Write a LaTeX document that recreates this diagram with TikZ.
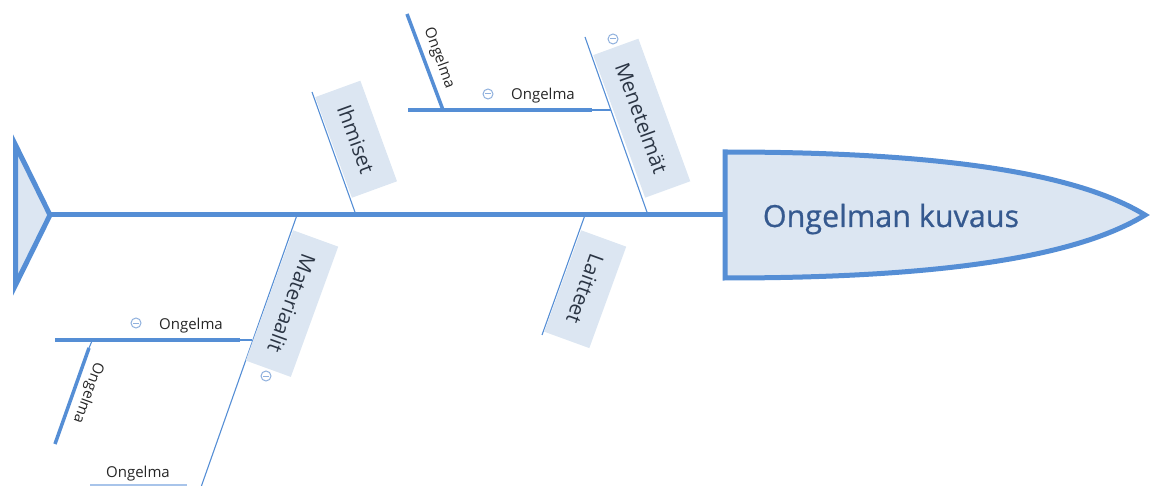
\documentclass[tikz,border=0pt]{standalone}
\usepackage{fontspec}
\setmainfont{Open Sans}
\newfontfamily\headfont[FakeBold=0.6]{Open Sans}
\definecolor{bone}{HTML}{558ED5}
\definecolor{boxfill}{HTML}{DCE6F2}
\definecolor{headtext}{HTML}{35598F}
\definecolor{cattext}{HTML}{2B3544}
\definecolor{iconc}{HTML}{8FB0DD}
\definecolor{faint}{HTML}{A8C4EA}
\begin{document}
\begin{tikzpicture}[x=1pt,y=-1pt,
  spine/.style={draw=bone,line width=5pt},
  thinbone/.style={draw=bone,line width=1.1pt},
  thickbone/.style={draw=bone,line width=3.5pt},
  catbox/.style={fill=boxfill,font=\fontsize{20.5}{24}\selectfont,text=cattext,inner xsep=18pt,inner ysep=0pt,minimum height=48pt,anchor=south west},
  lbl/.style={font=\fontsize{15}{18}\selectfont,text=black!85,inner sep=0pt},
  minus/.style={circle,draw=iconc,line width=1pt,minimum size=10pt,inner sep=0pt,
    path picture={\draw[iconc,line width=1pt] ([xshift=-2.6pt]path picture bounding box.center) -- ([xshift=2.6pt]path picture bounding box.center);}}
]
\useasboundingbox (0,0) rectangle (1151,486);
% spine
\coordinate (tail) at (50,215);
\coordinate (headL) at (725,215);
\draw[spine] (tail) -- (headL);
\draw[spine,fill=boxfill,line join=miter] (15.5,145) -- (tail) -- (15.5,285) -- cycle;
\draw[spine,fill=boxfill] (725,152) .. controls (950,152) and (1080,175) .. (1145,215)
  .. controls (1080,255) and (950,278) .. (725,278) -- cycle;
\node[font=\headfont\fontsize{30.5}{36}\selectfont,text=headtext,anchor=base] (head) at (891,227) {Ongelman kuvaus};
% category bones
\coordinate (a1) at (356,215); \coordinate (t1) at (312,92);
\coordinate (a2) at (648,215); \coordinate (t2) at (585,37);
\coordinate (a3) at (297,215); \coordinate (t3) at (200,490);
\coordinate (a4) at (585,215); \coordinate (t4) at (542,335);
\draw[thinbone] (a1) -- (t1);
\draw[thinbone] (a2) -- (t2);
\draw[thinbone] (a3) -- (t3);
\draw[thinbone] (a4) -- (t4);
\node[catbox,rotate=-70] (ihm) at (315,97) {Ihmiset};
\node[catbox,rotate=-70] (men) at (593,55) {Menetelmät};
\node[catbox,rotate=-110] (mat) at (293,230) {Materiaalit};
\node[catbox,rotate=-110] (lai) at (581,230) {Laitteet};
\node[minus] (m2) at (613,39) {};
\node[minus] (m4) at (266,376) {};
% top sub-branch
\coordinate (s1) at (408,110); \coordinate (k1) at (592,110); \coordinate (j1) at (611,110);
\draw[thickbone] (s1) -- (k1);
\draw[thinbone] (k1) -- (j1);
\node[lbl,anchor=base] (o1) at (543,100) {Ongelma};
\node[minus] (m1) at (488,94) {};
\coordinate (u1) at (407,14); \coordinate (v1) at (443,110);
\draw[thickbone] (u1) -- (v1);
\node[lbl,rotate=-70] (o2) at (439,58) {Ongelma};
% bottom sub-branch
\coordinate (s2) at (55,340); \coordinate (k2) at (240,340); \coordinate (j2) at (252,340);
\draw[thickbone] (s2) -- (k2);
\draw[thinbone] (k2) -- (j2);
\node[lbl,anchor=base] (o3) at (191,329) {Ongelma};
\node[minus] (m3) at (136,323) {};
\coordinate (u2) at (92,341); \coordinate (w2) at (89,348); \coordinate (v2) at (55,444);
\draw[thinbone] (u2) -- (w2);
\draw[thickbone] (w2) -- (v2);
\node[lbl,rotate=-110] (o4) at (88,393) {Ongelma};
% bottom label
\node[lbl,anchor=base] (o5) at (138,477) {Ongelma};
\coordinate (f1) at (90,485); \coordinate (f2) at (187,485);
\draw[faint,line width=1.5pt] (f1) -- (f2);
\end{tikzpicture}
\end{document}
